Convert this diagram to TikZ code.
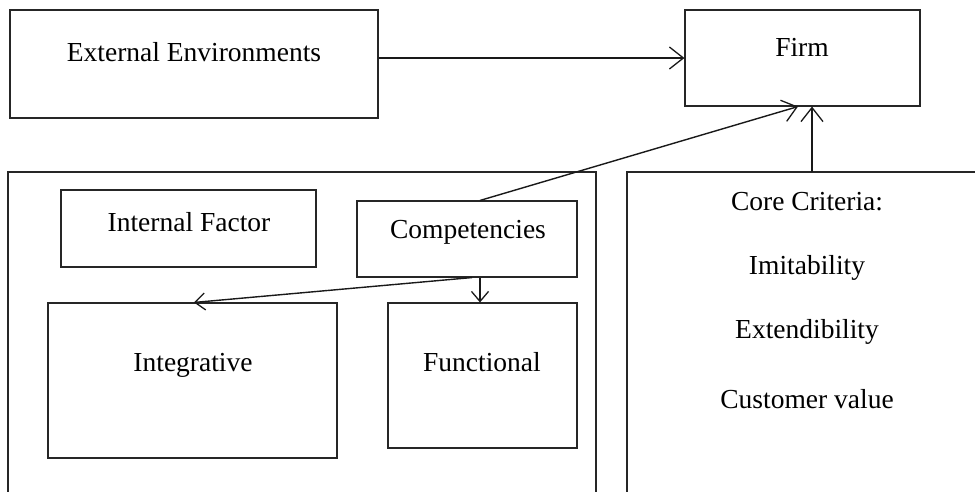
\documentclass[tikz,border=0pt]{standalone}
\usepackage{fontspec}
\setmainfont{Liberation Serif}
\usetikzlibrary{arrows.meta}
\begin{document}
\begin{tikzpicture}[x=1pt,y=-1pt,
  box/.style 2 args={draw=black!85, line width=1.1pt, minimum width=#1pt, minimum height=#2pt, inner sep=0pt},
  lbl/.style={inner sep=0pt, font=\fontsize{27.5}{32}\selectfont},
  bigarr/.style={draw=black!90, line width=1.4pt, -{Straight Barb[length=14pt,width=22pt,line width=1.3pt]}},
  smallarr/.style={draw=black!90, line width=1.4pt, -{Straight Barb[length=10pt,width=17pt,line width=1.3pt]}},
  frame/.style={draw=black!85, line width=1.1pt}]
\useasboundingbox (0,0) rectangle (975,491);
\begin{scope}
\clip (0,0) rectangle (975,491);
\draw[frame] (8,500) -- (8,172) -- (596,172) -- (596,500);
\draw[frame] (627,500) -- (627,172) -- (985,172);
\end{scope}
% boxes
\node[box={368}{108}] (ext) at (194,64) {};
\node[box={235}{96}] (firm) at (802.5,58) {};
\node[box={255}{77}] (intf) at (188.5,228.5) {};
\node[box={220}{76}] (comp) at (467,239) {};
\node[box={289}{155}] (integ) at (192.5,380.5) {};
\node[box={189}{145}] (func) at (482.5,375.5) {};
\coordinate (coretop) at (812,172);
% labels
\node[lbl] (extT) at (194,52) {External Environments};
\node[lbl] (firmT) at (802,47) {Firm};
\node[lbl] (intfT) at (189,222) {Internal Factor};
\node[lbl] (compT) at (468,232) {Competencies};
\node[lbl] (integT) at (193,365) {Integrative};
\node[lbl] (funcT) at (482,362) {Functional};
\node[lbl] (c1) at (807,202) {Core Criteria:};
\node[lbl] (c2) at (807,268) {Imitability};
\node[lbl] (c3) at (807,332) {Extendibility};
\node[lbl] (c4) at (807,399) {Customer value};
% connectors
\draw[bigarr] ([yshift=6pt]ext.east) -- (firm.west);
\draw[bigarr] ([xshift=13pt]comp.north) -- ([xshift=-4.5pt]firm.south);
\draw[bigarr] (coretop) -- ([xshift=9.5pt]firm.south);
\draw[smallarr] ([xshift=5pt]comp.south) -- ([xshift=1.5pt]integ.north);
\draw[smallarr] ([xshift=13pt]comp.south) -- ([xshift=-2.5pt]func.north);
\end{tikzpicture}
\end{document}
